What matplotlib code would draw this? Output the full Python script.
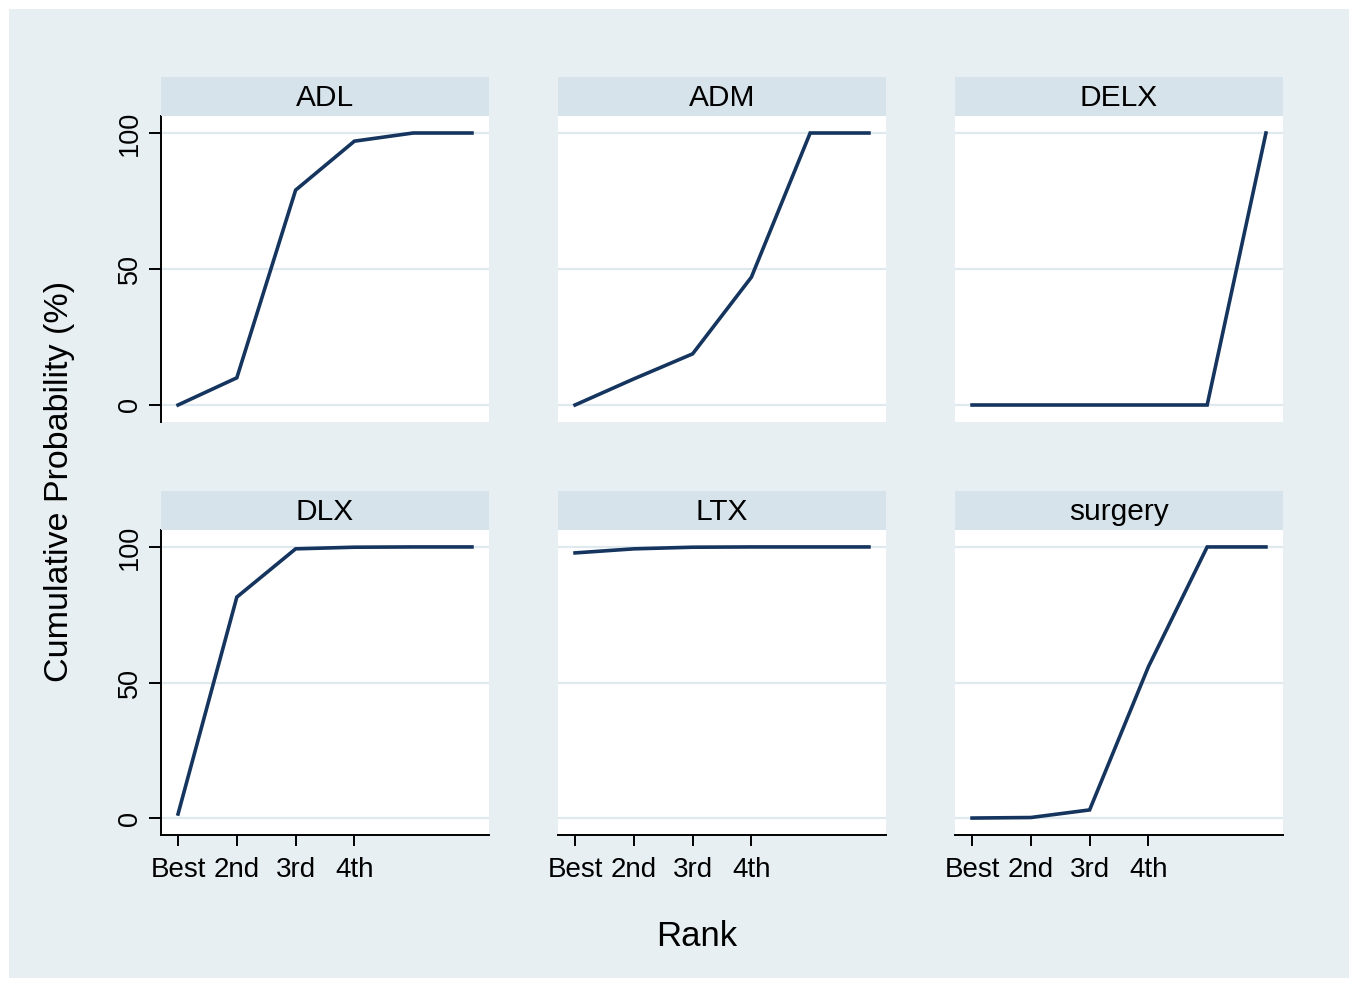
import matplotlib
matplotlib.use("Agg")
import matplotlib.pyplot as plt
from matplotlib.patches import Rectangle

plt.rcParams['font.family'] = ['Liberation Sans', 'DejaVu Sans']

ranks = [1, 2, 3, 4, 5, 6]
rank_tick_pos = [1, 2, 3, 4]
rank_tick_labels = ["Best", "2nd", "3rd", "4th"]
treatments = ["ADL", "ADM", "DELX", "DLX", "LTX", "surgery"]

ADL = [0, 10, 79, 97, 100, 100]
ADM = [0, 9.6, 18.8, 47, 100, 100]
DELX = [0, 0, 0, 0, 0, 100]
DLX = [1.5, 81.5, 99.3, 99.9, 100, 100]
LTX = [97.8, 99.3, 99.9, 100, 100, 100]
surgery = [0, 0.2, 3, 55.8, 100, 100]
series = [ADL, ADM, DELX, DLX, LTX, surgery]

y_ticks = [0, 50, 100]

W, H = 1354, 983
fig = plt.figure(figsize=(W / 100, H / 100), dpi=100)
fig.patch.set_facecolor("white")
bg = Rectangle((9 / W, 5 / H), (W - 14) / W, (H - 14) / H, transform=fig.transFigure,
               facecolor="#e7eff2", edgecolor="none", zorder=-10)
fig.patches.append(bg)

line_color = "#15355f"
grid_color = "#dfe9ee"
strip_color = "#d6e3ea"

col_left = [161, 558, 955]
col_w = 328
row_top = [116, 530]
row_bot = [422, 835]
strip_h = 39

for i, (name, vals) in enumerate(zip(treatments, series)):
    r, c = divmod(i, 3)
    x0 = col_left[c]
    ax = fig.add_axes([x0 / W, 1 - row_bot[r] / H, col_w / W, (row_bot[r] - row_top[r]) / H])
    ax.set_facecolor("white")
    ax.plot(ranks, vals, color=line_color, lw=2.6, solid_joinstyle="miter", zorder=3)
    ax.set_xlim(0.71, 6.29)
    ax.set_ylim(-6.25, 106.25)
    for yv in y_ticks:
        ax.axhline(yv, color=grid_color, lw=1.6, zorder=1)
    for s in ax.spines.values():
        s.set_visible(False)
    if c == 0:
        ax.spines['left'].set_visible(True)
        ax.spines['left'].set_linewidth(1.4)
        ax.spines['left'].set_color("black")
        ax.set_yticks(y_ticks)
        ax.set_yticklabels([str(v) for v in y_ticks], rotation=90, va="center", fontsize=19.5)
        ax.tick_params(axis='y', length=9, width=1.4, pad=4)
    else:
        ax.set_yticks([])
    if r == 1:
        ax.spines['bottom'].set_visible(True)
        ax.spines['bottom'].set_linewidth(1.4)
        ax.spines['bottom'].set_color("black")
        ax.set_xticks(rank_tick_pos)
        ax.set_xticklabels(rank_tick_labels, fontsize=20)
        ax.tick_params(axis='x', length=8, width=1.4, pad=8)
    else:
        ax.set_xticks([])
    # strip
    sax = fig.add_axes([x0 / W, 1 - row_top[r] / H, col_w / W, strip_h / H])
    sax.set_facecolor(strip_color)
    for s in sax.spines.values():
        s.set_visible(False)
    sax.set_xticks([])
    sax.set_yticks([])
    sax.text(0.5, 0.47, name, ha="center", va="center", fontsize=21.5, transform=sax.transAxes)

fig.text(60 / W, 1 - 481 / H, "Cumulative Probability (%)", rotation=90, ha="center", va="center", fontsize=24.5)
fig.text(697 / W, 1 - 937 / H, "Rank", ha="center", va="center", fontsize=25)

fig.savefig("out.png", dpi=100, facecolor=fig.get_facecolor())
